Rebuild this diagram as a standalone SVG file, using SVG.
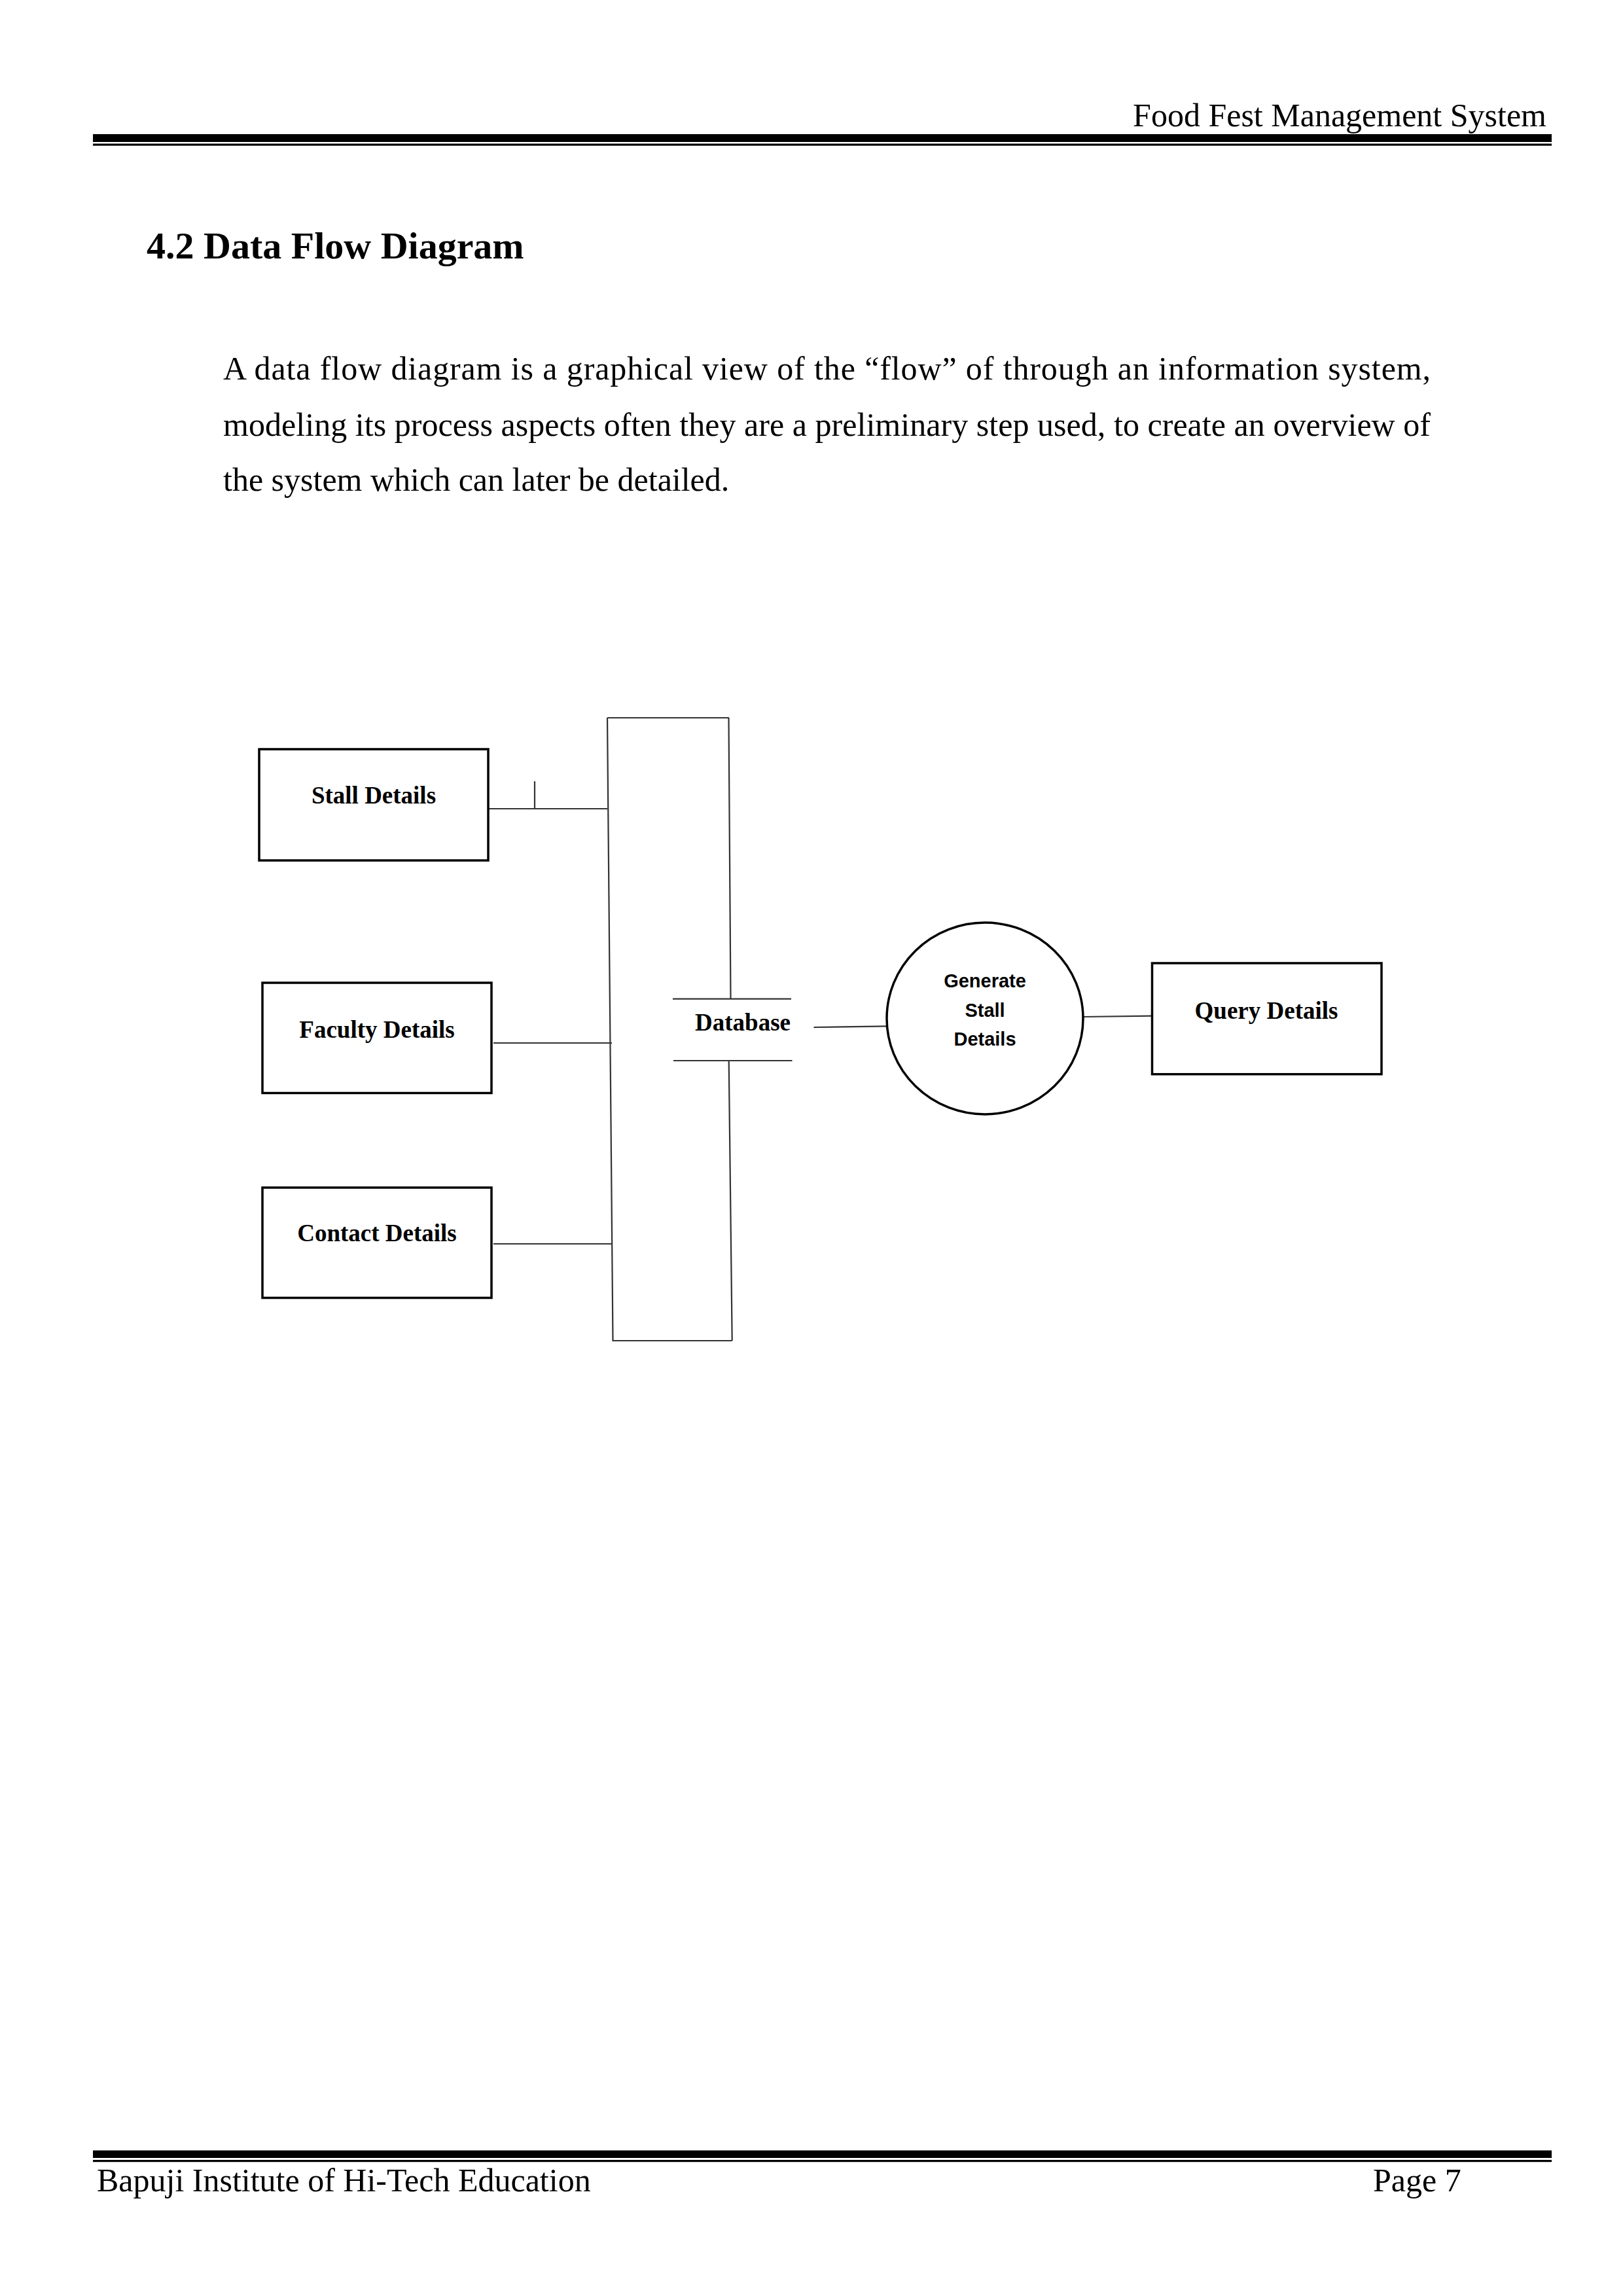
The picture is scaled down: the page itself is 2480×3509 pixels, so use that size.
<svg xmlns="http://www.w3.org/2000/svg" width="2480" height="3509" viewBox="0 0 2480 3509">
<style>
.serif{font-family:"Liberation Serif","Times New Roman",serif;fill:#000}
.body{font-size:50px}
.lbl{font-family:"Liberation Serif","Times New Roman",serif;font-weight:bold;font-size:37px;fill:#000;text-anchor:middle}
.proc{font-family:"Liberation Sans",Arial,sans-serif;font-weight:bold;font-size:29px;fill:#000;text-anchor:middle}
.box{fill:#fff;stroke:#000;stroke-width:3.5}
.ln{stroke:#333;stroke-width:2.2;fill:none}
</style>
<rect width="2480" height="3509" fill="#fff"/>
<g id="page-header">
<text class="serif body" x="2363" y="193" text-anchor="end">Food Fest Management System</text>
<rect x="142" y="205" width="2229" height="12" fill="#000"/>
<rect x="142" y="219.5" width="2229" height="3.2" fill="#000"/>
</g>
<g id="title">
<text class="serif" x="224" y="395" font-size="58" font-weight="bold">4.2 Data Flow Diagram</text>
</g>
<g id="paragraph">
<text class="serif body" x="341" y="580" textLength="1845" lengthAdjust="spacing">A data flow diagram is a graphical view of the “flow” of through an information system,</text>
<text class="serif body" x="341" y="666" textLength="1845" lengthAdjust="spacing">modeling its process aspects often they are a preliminary step used, to create an overview of</text>
<text class="serif body" x="341" y="750">the system which can later be detailed.</text>
</g>
<g id="connectors">
<line class="ln" x1="746" y1="1236" x2="928" y2="1236"/>
<line class="ln" x1="817" y1="1194" x2="817" y2="1236"/>
<line class="ln" x1="754" y1="1594" x2="935" y2="1594"/>
<line class="ln" x1="754" y1="1901" x2="935.5" y2="1901"/>
<line class="ln" x1="928" y1="1097" x2="936.5" y2="2050"/>
<line class="ln" x1="928" y1="1097" x2="1114" y2="1097"/>
<line class="ln" x1="1113.5" y1="1097" x2="1116.5" y2="1526"/>
<line class="ln" x1="1113.7" y1="1621" x2="1118.7" y2="2049"/>
<line class="ln" x1="936.5" y1="2049" x2="1118.7" y2="2049"/>
<line class="ln" x1="1243.5" y1="1570" x2="1355" y2="1568.3"/>
<line class="ln" x1="1655" y1="1554" x2="1760" y2="1552.7"/>
</g>
<g id="stall-details">
<rect class="box" x="396" y="1145" width="350" height="170"/>
<text class="lbl" x="571" y="1228">Stall Details</text>
</g>
<g id="faculty-details">
<rect class="box" x="401" y="1502" width="350" height="168.5"/>
<text class="lbl" x="576" y="1586">Faculty Details</text>
</g>
<g id="contact-details">
<rect class="box" x="401" y="1815" width="350" height="168.5"/>
<text class="lbl" x="576" y="1897">Contact Details</text>
</g>
<g id="database">
<line class="ln" x1="1028" y1="1526.7" x2="1209" y2="1526.7"/>
<line class="ln" x1="1029" y1="1621" x2="1210.5" y2="1621"/>
<text class="lbl" x="1135" y="1575">Database</text>
</g>
<g id="generate-stall-details">
<ellipse cx="1505" cy="1556.5" rx="150" ry="146.5" fill="#fff" stroke="#000" stroke-width="3.5"/>
<text class="proc" x="1505" y="1509">Generate</text>
<text class="proc" x="1505" y="1554">Stall</text>
<text class="proc" x="1505" y="1598">Details</text>
</g>
<g id="query-details">
<rect class="box" x="1760.5" y="1472" width="350.5" height="169.7"/>
<text class="lbl" x="1935" y="1557">Query Details</text>
</g>
<g id="page-footer">
<rect x="142" y="3286.5" width="2229" height="11.5" fill="#000"/>
<rect x="142" y="3301" width="2229" height="3.2" fill="#000"/>
<text class="serif body" x="148" y="3349">Bapuji Institute of Hi-Tech Education</text>
<text class="serif body" x="2098" y="3349">Page 7</text>
</g>
</svg>
